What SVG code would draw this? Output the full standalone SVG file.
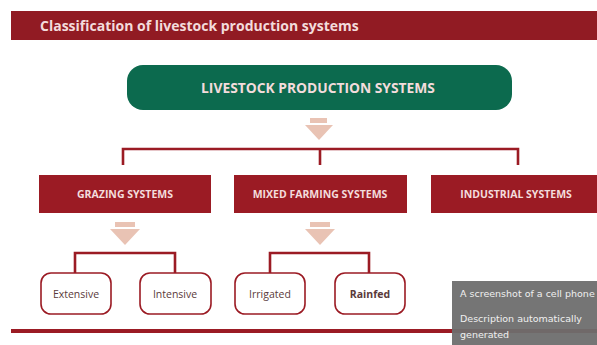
<svg xmlns="http://www.w3.org/2000/svg" width="597" height="345" viewBox="0 0 597 345">
<style>
.hdr{font-family:"Open Sans","Liberation Sans",sans-serif;font-weight:bold;fill:#f3dcdc}
.box{fill:#9b1b24}
.sub{fill:#ffffff;stroke:#9b1b24;stroke-width:1.6}
.subt{font-family:"Open Sans","Liberation Sans",sans-serif;font-size:10.5px;fill:#5a3a3a;text-anchor:middle}
.bt{font-family:"Open Sans","Liberation Sans",sans-serif;font-weight:bold;font-size:10.5px;fill:#f3dcdc;text-anchor:middle}
.con{fill:none;stroke:#9b1b24;stroke-width:2.6}
.arr{fill:#e9c3b4}
.ov{font-family:"DejaVu Sans","Liberation Sans",sans-serif;font-size:9.5px;fill:#f0f0f0}
</style>
<rect width="597" height="345" fill="#ffffff"/>
<g id="title">
<rect x="11" y="11" width="586" height="29" fill="#911b23"/>
<text x="40" y="30.5" class="hdr" font-size="14">Classification of livestock production systems</text>
</g>
<g id="root">
<rect x="127" y="65" width="385" height="45" rx="16" fill="#0c6a4e"/>
<text x="318" y="92.5" class="hdr" font-size="13.8" text-anchor="middle" fill="#e8f0ec">LIVESTOCK PRODUCTION SYSTEMS</text>
</g>
<g id="connectors">
<rect class="arr" x="310" y="118" width="17" height="5"/>
<polygon class="arr" points="305,125 333,125 319,140"/>
<path class="con" d="M123,165 V149 H518 V165 M320,149 V165"/>
<rect class="arr" x="115" y="222" width="20" height="5"/>
<polygon class="arr" points="110,229 140,229 125,245"/>
<rect class="arr" x="310" y="222" width="20" height="5"/>
<polygon class="arr" points="305,229 335,229 320,245"/>
<path class="con" d="M75,273 V253 H175 V273"/>
<path class="con" d="M270,273 V253 H369 V273"/>
<line x1="11" y1="331" x2="597" y2="331" stroke="#9b1b24" stroke-width="4"/>
</g>
<g id="grazing">
<rect class="box" x="39" y="175" width="172" height="38"/>
<text class="bt" x="125" y="198">GRAZING SYSTEMS</text>
</g>
<g id="mixed">
<rect class="box" x="234" y="175" width="173" height="38"/>
<text class="bt" x="320" y="198">MIXED FARMING SYSTEMS</text>
</g>
<g id="industrial">
<rect class="box" x="431" y="175" width="170" height="38"/>
<text class="bt" x="516" y="198">INDUSTRIAL SYSTEMS</text>
</g>
<g id="extensive">
<rect class="sub" x="41" y="273" width="70" height="41" rx="10"/>
<text class="subt" x="76" y="297.5">Extensive</text>
</g>
<g id="intensive">
<rect class="sub" x="140" y="273" width="71" height="41" rx="10"/>
<text class="subt" x="175" y="297.5">Intensive</text>
</g>
<g id="irrigated">
<rect class="sub" x="235" y="273" width="70" height="41" rx="10"/>
<text class="subt" x="270" y="297.5">Irrigated</text>
</g>
<g id="rainfed">
<rect class="sub" x="335" y="273" width="70" height="41" rx="10"/>
<text class="subt" x="370" y="297.5" font-weight="bold">Rainfed</text>
</g>
<g id="overlay">
<rect x="452" y="281" width="145" height="64" fill="#6e6e6e" opacity="0.95"/>
<text class="ov" x="460" y="297">A screenshot of a cell phone</text>
<text class="ov" x="460" y="322">Description automatically</text>
<text class="ov" x="460" y="338">generated</text>
</g>
</svg>
